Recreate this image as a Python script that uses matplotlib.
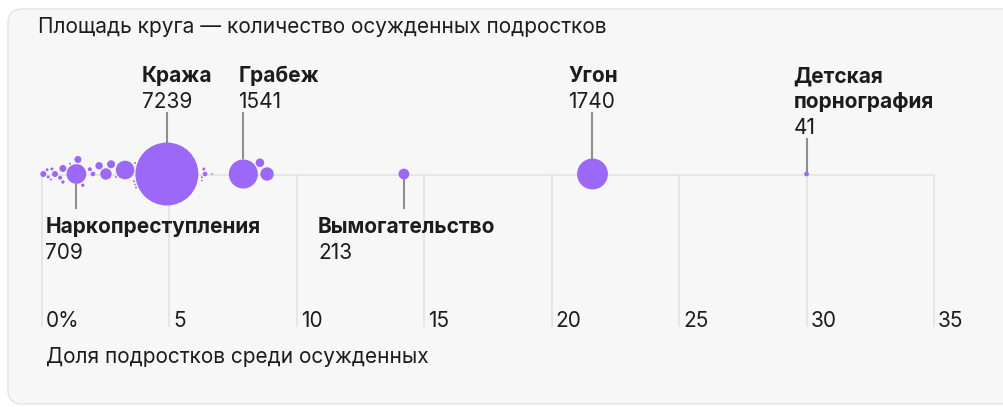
import numpy as np
import matplotlib.pyplot as plt
from matplotlib.patches import FancyBboxPatch
from matplotlib.transforms import IdentityTransform

plt.rcParams['font.family'] = ['Inter', 'DejaVu Sans']

# доля подростков среди осужденных, % и число осужденных подростков
names = ['Кража', 'Грабеж', 'Угон', 'Наркопреступления', 'Вымогательство', 'Детская\nпорнография']
shares = [4.9, 7.9, 21.6, 1.35, 14.2, 30.0]
counts = [7239, 1541, 1740, 709, 213, 41]

# остальные статьи без подписей
other_shares = [0.05, 0.24, 0.2, 0.35, 0.51, 0.39, 0.71, 0.82, 0.82, 1.41, 1.1, 1.6, 1.88, 2.0,
                2.24, 2.71, 2.51, 2.9, 3.26, 3.69, 3.61, 3.65, 3.65, 6.35, 6.4, 6.67, 6.27, 6.27,
                8.83, 8.55]
other_counts = [66, 16, 16, 7, 66, 16, 29, 21, 89, 89, 7, 21, 29, 39,
                100, 117, 237, 7, 632, 7, 7, 7, 5, 16, 39, 5, 7, 5,
                328, 135]

ticks = [0, 5, 10, 15, 20, 25, 30, 35]
tick_labels = ['0%', '5', '10', '15', '20', '25', '30', '35']

# layout (pixels)
W, H = 1004, 407
px0, ppu = 42, 25.486      # x of 0 %, pixels per percent
base_y = 174
k = 0.37                   # radius = k * sqrt(count)
purple = '#9c68f8'
ink = '#1c1c1c'
fs = 15

fig = plt.figure(figsize=(W / 100, H / 100), dpi=100)
card = FancyBboxPatch((8, 3), 1030, 395, boxstyle='round,pad=0,rounding_size=14',
                      transform=IdentityTransform(), facecolor='#f7f7f7',
                      edgecolor='#e4e4e4', linewidth=1, zorder=0)
fig.add_artist(card)

ax = fig.add_axes([0, 0, 1, 1])
ax.set_xlim(-px0 / ppu, (W - px0) / ppu)
ax.set_ylim(H, 0)
ax.axis('off')

# simple greedy beeswarm in pixel space
all_x = np.array(shares + other_shares)
all_n = np.array(counts + other_counts)
r = k * np.sqrt(all_n)
xp = px0 + all_x * ppu
yoff = np.zeros(len(all_x))
placed = []
for i in np.argsort(-all_n):
    steps = [0.0]
    for s in np.arange(0.25, 60, 0.25):
        steps += [-s, s]
    for dy in steps:
        ok = True
        for j in placed:
            if np.hypot(xp[i] - xp[j], dy - yoff[j]) < r[i] + r[j] + 1.2:
                ok = False
                break
        if ok:
            yoff[i] = dy
            break
    placed.append(i)

# grid and baseline
ax.plot([0, 35], [175, 175], color='#e3e3e3', lw=1.2, zorder=1)
for t, lab in zip(ticks, tick_labels):
    ax.plot([t, t], [175, 326], color='#e3e3e3', lw=1.2, zorder=1)
    ax.text(t + 4 / ppu, 321, lab, fontsize=fs, color=ink, va='center', ha='left')

ax.scatter(all_x, base_y + yoff, s=(2 * r * 0.72) ** 2, color=purple, linewidths=0, zorder=3)

# labels: (dx of text from centre in px, side)
label_dx = [-25, -5, -24, -31, -86, -13]
label_side = ['top', 'top', 'top', 'bottom', 'bottom', 'top']
for i, (nm, sh, cn) in enumerate(zip(names, shares, counts)):
    tx = sh + label_dx[i] / ppu
    cy = base_y + yoff[i]
    if label_side[i] == 'top':
        lines = nm.split('\n')
        y = 76
        for ln in lines:
            ax.text(tx, y, ln, fontsize=fs, fontweight='bold', color=ink, va='center', ha='left')
            y += 26
        ax.text(tx, y, str(cn), fontsize=fs, color=ink, va='center', ha='left')
        ax.plot([sh, sh], [y + 11, cy - r[i] - 1], color='#8f8f8f', lw=1.5, zorder=2)
    else:
        ax.text(tx, 227, nm, fontsize=fs, fontweight='bold', color=ink, va='center', ha='left')
        ax.text(tx, 253, str(cn), fontsize=fs, color=ink, va='center', ha='left')
        ax.plot([sh, sh], [cy + r[i] + 1, 208], color='#8f8f8f', lw=1.5, zorder=2)

ax.text(-4 / ppu, 27, 'Площадь круга — количество осужденных подростков', fontsize=fs,
        color=ink, va='center', ha='left')
ax.text(4 / ppu, 357, 'Доля подростков среди осужденных', fontsize=fs,
        color=ink, va='center', ha='left')

fig.savefig('out.png', dpi=100, facecolor='white')
